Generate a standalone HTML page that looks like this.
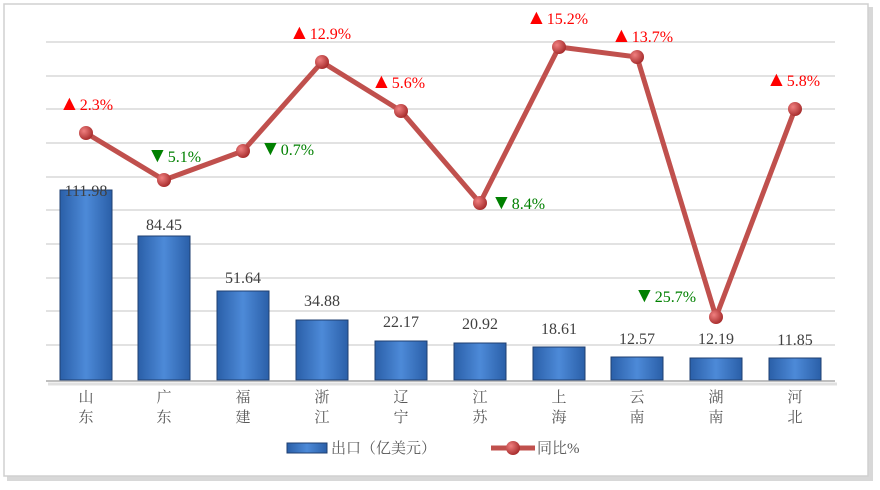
<!DOCTYPE html>
<html><head><meta charset="utf-8"><style>
body{margin:0;background:#fff;}
svg{display:block;}
text{font-family:"Liberation Serif","Noto Serif CJK SC",serif;}
</style></head><body>
<svg width="880" height="490" viewBox="0 0 880 490" xmlns="http://www.w3.org/2000/svg">
<defs>
<linearGradient id="bar" x1="0" x2="1" y1="0" y2="0">
<stop offset="0" stop-color="#2a5fa8"/><stop offset="0.5" stop-color="#4d8ad8"/><stop offset="1" stop-color="#2a5fa8"/>
</linearGradient>
<radialGradient id="dot" cx="0.35" cy="0.35" r="0.7">
<stop offset="0" stop-color="#f08080"/><stop offset="1" stop-color="#a52a2a"/>
</radialGradient>
</defs>
<rect x="7" y="7" width="866" height="474" fill="#d8d8d8"/>
<rect x="4" y="4" width="864" height="472" fill="#fff" stroke="#d0d0d0" stroke-width="1.5"/>
<g stroke="#d9d9d9" stroke-width="1.5">
<line x1="46" x2="835" y1="42" y2="42"/><line x1="46" x2="835" y1="76" y2="76"/>
<line x1="46" x2="835" y1="109" y2="109"/><line x1="46" x2="835" y1="143" y2="143"/>
<line x1="46" x2="835" y1="177" y2="177"/><line x1="46" x2="835" y1="210" y2="210"/>
<line x1="46" x2="835" y1="244" y2="244"/><line x1="46" x2="835" y1="278" y2="278"/>
<line x1="46" x2="835" y1="311" y2="311"/><line x1="46" x2="835" y1="345" y2="345"/>
</g>
<line x1="46" x2="835" y1="381" y2="381" stroke="#bfbfbf" stroke-width="2"/>
<line x1="48" x2="837" y1="384" y2="384" stroke="#e0e0e0" stroke-width="3"/>
<g fill="url(#bar)" stroke="#1f3f70" stroke-width="1">
<rect x="60" y="190" width="52" height="190"/>
<rect x="138" y="236" width="52" height="144"/>
<rect x="217" y="291" width="52" height="89"/>
<rect x="296" y="320" width="52" height="60"/>
<rect x="375" y="341" width="52" height="39"/>
<rect x="454" y="343" width="52" height="37"/>
<rect x="533" y="347" width="52" height="33"/>
<rect x="611" y="357" width="52" height="23"/>
<rect x="690" y="358" width="52" height="22"/>
<rect x="769" y="358" width="52" height="22"/>
</g>
<g font-size="16" fill="#404040" text-anchor="middle">
<text x="86" y="196">111.98</text><text x="164" y="230">84.45</text>
<text x="243" y="283">51.64</text><text x="322" y="306">34.88</text>
<text x="401" y="327">22.17</text><text x="480" y="329">20.92</text>
<text x="559" y="334">18.61</text><text x="637" y="344">12.57</text>
<text x="716" y="344">12.19</text><text x="795" y="345">11.85</text>
</g>
<polyline points="86,133 164,180 243,151 322,62 401,111 480,203 559,47 637,57 716,317 795,109" fill="none" stroke="#c0504d" stroke-width="5" stroke-linejoin="round"/>
<g fill="url(#dot)">
<circle cx="86" cy="133" r="7"/><circle cx="164" cy="180" r="7"/><circle cx="243" cy="151" r="7"/>
<circle cx="322" cy="62" r="7"/><circle cx="401" cy="111" r="7"/><circle cx="480" cy="203" r="7"/>
<circle cx="559" cy="47" r="7"/><circle cx="637" cy="57" r="7"/><circle cx="716" cy="317" r="7"/>
<circle cx="795" cy="109" r="7"/>
</g>
<g font-size="16" fill="#ff0000">
<text x="59" y="110"><tspan font-size="21">▲</tspan>2.3%</text><text x="289" y="39"><tspan font-size="21">▲</tspan>12.9%</text>
<text x="371" y="88"><tspan font-size="21">▲</tspan>5.6%</text><text x="526" y="24"><tspan font-size="21">▲</tspan>15.2%</text>
<text x="611" y="42"><tspan font-size="21">▲</tspan>13.7%</text><text x="766" y="86"><tspan font-size="21">▲</tspan>5.8%</text>
</g>
<g font-size="16" fill="#008000">
<text x="147" y="162"><tspan font-size="21">▼</tspan>5.1%</text><text x="260" y="155"><tspan font-size="21">▼</tspan>0.7%</text>
<text x="491" y="209"><tspan font-size="21">▼</tspan>8.4%</text><text x="634" y="302"><tspan font-size="21">▼</tspan>25.7%</text>
</g>
<g font-size="15" fill="#595959" text-anchor="middle">
<text x="86" y="402">山</text><text x="86" y="422">东</text>
<text x="164" y="402">广</text><text x="164" y="422">东</text>
<text x="243" y="402">福</text><text x="243" y="422">建</text>
<text x="322" y="402">浙</text><text x="322" y="422">江</text>
<text x="401" y="402">辽</text><text x="401" y="422">宁</text>
<text x="480" y="402">江</text><text x="480" y="422">苏</text>
<text x="559" y="402">上</text><text x="559" y="422">海</text>
<text x="637" y="402">云</text><text x="637" y="422">南</text>
<text x="716" y="402">湖</text><text x="716" y="422">南</text>
<text x="795" y="402">河</text><text x="795" y="422">北</text>
</g>
<rect x="287" y="443" width="40" height="10" fill="url(#bar)" stroke="#1f3f70"/>
<text x="331" y="453" font-size="15" fill="#595959">出口（亿美元）</text>
<line x1="491" x2="535" y1="448" y2="448" stroke="#c0504d" stroke-width="5"/>
<circle cx="513" cy="448" r="7" fill="url(#dot)"/>
<text x="537" y="453" font-size="15" fill="#595959">同比%</text>
</svg>
</body></html>
